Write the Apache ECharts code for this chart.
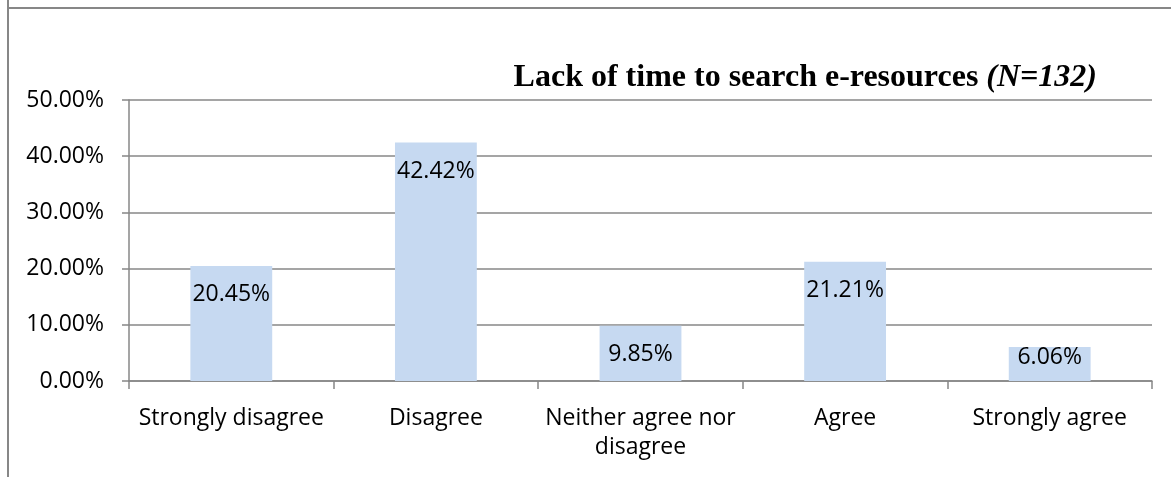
<!DOCTYPE html>
<html><head><meta charset="utf-8">
<script src="https://cdn.jsdelivr.net/npm/echarts@6/dist/echarts.min.js"></script>
<style>html,body{margin:0;padding:0;background:#fff}#c{width:1171px;height:477px}</style>
</head><body><div id="c"></div>
<script>
const categories = ['Strongly disagree', 'Disagree', 'Neither agree nor\ndisagree', 'Agree', 'Strongly agree'];
const values = [20.45, 42.42, 9.85, 21.21, 6.06];
const yTicks = [0, 10, 20, 30, 40, 50];
const titleMain = 'Lack of time to search e-resources ';
const titleN = '(N=132)';

const chart = echarts.init(document.getElementById('c'));
const FONT = '"Open Sans", sans-serif';
const FS = 23;
const GRAY = '#878787';
chart.setOption({
  animation: false,
  graphic: [
    {type: 'line', shape: {x1: 8, y1: 0, x2: 8, y2: 477}, style: {stroke: GRAY, lineWidth: 2}},
    {type: 'line', shape: {x1: 7, y1: 8, x2: 1171, y2: 8}, style: {stroke: GRAY, lineWidth: 2}},
    {type: 'text', right: 74, top: 62, style: {
      rich: {
        a: {fontFamily: '"Liberation Serif", serif', fontWeight: 'bold', fontSize: 32, fill: '#000'},
        b: {fontFamily: '"Liberation Serif", serif', fontWeight: 'bold', fontStyle: 'italic', fontSize: 32, fill: '#000'}
      },
      text: '{a|' + titleMain + '}{b|' + titleN + '}'
    }}
  ],
  grid: {left: 129, right: 19, top: 100, bottom: 96, containLabel: false},
  xAxis: {
    type: 'category', data: categories,
    axisLine: {lineStyle: {color: GRAY, width: 1.5}},
    axisTick: {show: true, length: 8, lineStyle: {color: GRAY, width: 1.5}},
    axisLabel: {fontFamily: FONT, fontSize: FS, color: '#000', margin: 23, lineHeight: 29, interval: 0}
  },
  yAxis: {
    type: 'value', min: yTicks[0], max: yTicks[yTicks.length - 1], interval: 10,
    axisLine: {show: true, lineStyle: {color: GRAY, width: 1.5}},
    axisTick: {show: true, length: 7, lineStyle: {color: GRAY, width: 1.5}},
    splitLine: {lineStyle: {color: GRAY, width: 1.5}},
    axisLabel: {fontFamily: FONT, fontSize: FS, color: '#000', margin: 25,
      formatter: v => v.toFixed(2) + '%'}
  },
  series: [{
    type: 'bar', barWidth: '40%',
    itemStyle: {color: '#C6D9F1'},
    data: values.map((v, i) => {
      const d = {value: v};
      if (v < 8) d.label = {position: 'insideBottom', distance: 12};
      return d;
    }),
    label: {show: true, position: 'insideTop', distance: 17, fontFamily: FONT, fontSize: FS, color: '#000',
      formatter: p => p.value.toFixed(2) + '%'}
  }]
});
</script></body></html>
